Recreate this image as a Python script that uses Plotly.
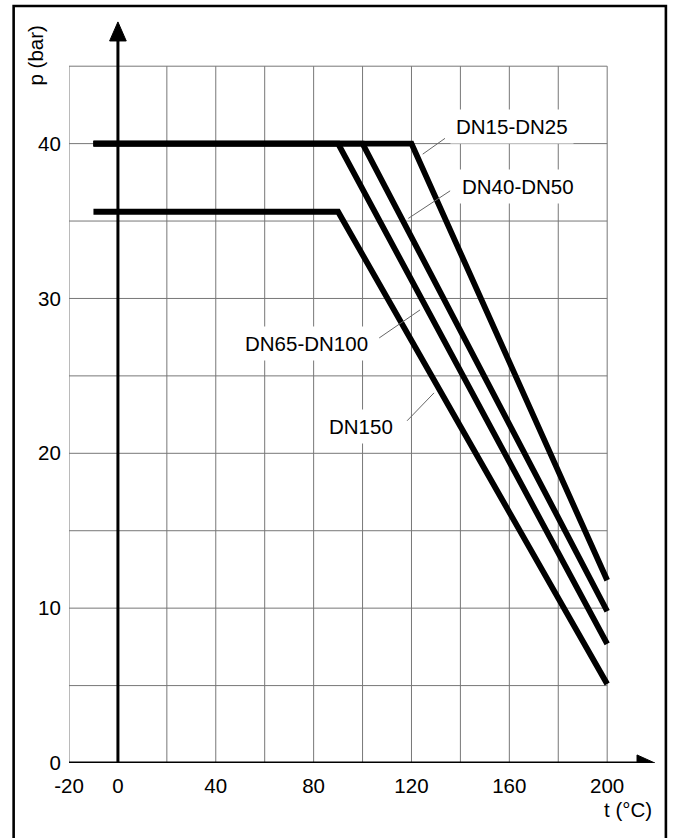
import plotly.graph_objects as go

# ---- data ----
series_names = ["DN15-DN25", "DN40-DN50", "DN65-DN100", "DN150"]
t_dn15 = [-10, 120, 200]
p_dn15 = [40, 40, 11.8]
t_dn40 = [-10, 100, 200]
p_dn40 = [40, 40, 9.8]
t_dn65 = [-10, 90, 200]
p_dn65 = [40, 40, 7.7]
t_dn150 = [-10, 90, 200]
p_dn150 = [35.6, 35.6, 5.1]

x_ticks = [-20, 0, 40, 80, 120, 160, 200]
y_ticks = [0, 10, 20, 30, 40]
x_grid = list(range(-20, 201, 20))
y_grid = list(range(0, 46, 5))

# ---- layout geometry (pixels) ----
W, H = 673, 838
L, R, T, B = 68.7, 11.9, 11.75, 74.5
XR = [-20, 222]
YR = [0, 48.5]
PW = W - L - R
PH = H - T - B

def px_to_paper_x(px):
    return (px - L) / PW

def px_to_paper_y(py):
    return (H - B - py) / PH

FONT = "Liberation Sans, Arial, sans-serif"
FS = 20.5
GRID = "#777777"

fig = go.Figure()
for name, xs, ys in zip(series_names,
                        [t_dn15, t_dn40, t_dn65, t_dn150],
                        [p_dn15, p_dn40, p_dn65, p_dn150]):
    fig.add_trace(go.Scatter(x=xs, y=ys, mode="lines", name=name,
                             line=dict(color="black", width=5.8),
                             hoverinfo="skip", showlegend=False))

shapes = []
for gx in x_grid:
    shapes.append(dict(type="line", xref="x", yref="y", x0=gx, x1=gx, y0=0, y1=45,
                       line=dict(color=GRID, width=1), layer="below"))
for gy in y_grid:
    shapes.append(dict(type="line", xref="x", yref="y", x0=-20, x1=200, y0=gy, y1=gy,
                       line=dict(color=GRID, width=1), layer="below"))

# axes with arrows
shapes.append(dict(type="line", xref="x", yref="y", x0=-20, x1=213, y0=0, y1=0,
                   line=dict(color="black", width=3)))
shapes.append(dict(type="path", xref="x", yref="y",
                   path="M 212.2,-0.52 L 219.5,0 L 212.2,0.52 Z",
                   fillcolor="black", line=dict(color="black", width=1)))
shapes.append(dict(type="line", xref="x", yref="y", x0=0, x1=0, y0=0, y1=46.8,
                   line=dict(color="black", width=3)))
shapes.append(dict(type="path", xref="x", yref="y",
                   path="M -3.4,46.63 L 0,47.86 L 3.4,46.63 Z",
                   fillcolor="black", line=dict(color="black", width=1)))

# leader lines
leaders = [((124.6, 39.32), (133.7, 40.34)),
           ((118.7, 35.17), (135.8, 36.95)),
           ((106.8, 27.45), (123.5, 29.26)),
           ((118.2, 22.10), (129.2, 23.90))]
for (a, b) in leaders:
    shapes.append(dict(type="line", xref="x", yref="y", x0=a[0], y0=a[1], x1=b[0], y1=b[1],
                       line=dict(color="#666666", width=1)))

# outer frame (open at the bottom)
shapes.append(dict(type="rect", xref="paper", yref="paper",
                   x0=px_to_paper_x(13.3), x1=px_to_paper_x(666),
                   y0=px_to_paper_y(860), y1=px_to_paper_y(5.7),
                   line=dict(color="black", width=2.6)))

label_pos = [(161.0, 41.13), (163.7, 37.21), (76.9, 27.06), (99.4, 21.71)]
annotations = []
for name, (lx, ly) in zip(series_names, label_pos):
    annotations.append(dict(x=lx, y=ly, xref="x", yref="y", text=name, showarrow=False,
                            xanchor="center", yanchor="middle",
                            font=dict(family=FONT, size=FS, color="black"),
                            bgcolor="white", borderpad=5))

annotations.append(dict(x=px_to_paper_x(35), y=px_to_paper_y(55), xref="paper", yref="paper",
                        text="p (bar)", textangle=-90, showarrow=False,
                        xanchor="center", yanchor="middle",
                        font=dict(family=FONT, size=FS, color="black")))
annotations.append(dict(x=px_to_paper_x(628), y=px_to_paper_y(810), xref="paper", yref="paper",
                        text="t (°C)", showarrow=False,
                        xanchor="center", yanchor="middle",
                        font=dict(family=FONT, size=FS, color="black")))

fig.update_layout(
    width=W, height=H,
    margin=dict(l=L, r=R, t=T, b=B, pad=0),
    paper_bgcolor="white", plot_bgcolor="white",
    shapes=shapes, annotations=annotations,
    font=dict(family=FONT, size=FS, color="black"),
    xaxis=dict(range=XR, tickvals=x_ticks, ticktext=[str(v) for v in x_ticks],
               showgrid=False, zeroline=False, showline=False,
               ticks="outside", ticklen=4, tickcolor="rgba(0,0,0,0)",
               tickfont=dict(family=FONT, size=FS, color="black")),
    yaxis=dict(range=YR, tickvals=y_ticks, ticktext=[str(v) for v in y_ticks],
               showgrid=False, zeroline=False, showline=False,
               ticks="outside", ticklen=3, tickcolor="rgba(0,0,0,0)",
               tickfont=dict(family=FONT, size=FS, color="black")),
)

fig.write_html("out.html",
               config={"displayModeBar": False},
               post_script="document.body.style.margin='0';document.body.style.overflow='hidden';")
